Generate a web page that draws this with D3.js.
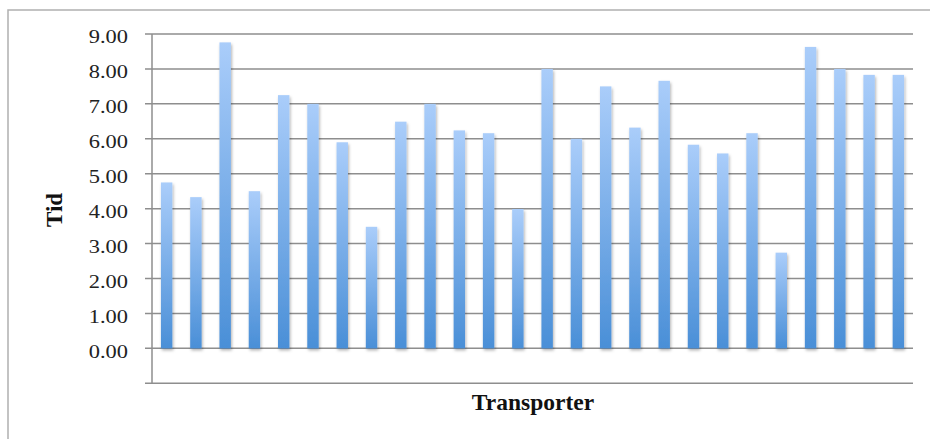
<!DOCTYPE html>
<html>
<head>
<meta charset="utf-8">
<script src="https://cdn.jsdelivr.net/npm/d3@7/dist/d3.min.js"></script>
<style>
  html, body { margin: 0; padding: 0; background: #fff; }
  svg { display: block; }
  .serif { font-family: "Liberation Serif", "Times New Roman", serif; }
</style>
</head>
<body>
<svg id="chart" width="930" height="439"></svg>
<script>
// Transporter times
const categories = d3.range(1, 27).map(String);
const values = [4.75, 4.33, 8.76, 4.50, 7.25, 7.00, 5.90, 3.48, 6.49, 7.00,
                6.24, 6.16, 3.99, 8.00, 6.00, 7.50, 6.32, 7.66, 5.83, 5.58,
                6.16, 2.74, 8.63, 8.00, 7.83, 7.83];
const tickValues = [0, 1, 2, 3, 4, 5, 6, 7, 8, 9];
const yTitle = "Tid";
const xTitle = "Transporter";

const svg = d3.select("#chart");
const plotLeft = 152, plotRight = 913, plotTop = 34, plotBottom = 383.3;

// Outer chart frame
svg.append("rect")
  .attr("x", 8).attr("y", 10).attr("width", 940).attr("height", 450)
  .attr("fill", "none").attr("stroke", "#b0b0b0").attr("stroke-width", 1.5);

const defs = svg.append("defs");
const grad = defs.append("linearGradient")
  .attr("id", "barFill").attr("x1", 0).attr("y1", 0).attr("x2", 0).attr("y2", 1);
grad.append("stop").attr("offset", "0%").attr("stop-color", "#aacdfa");
grad.append("stop").attr("offset", "100%").attr("stop-color", "#4a8fd7");

const shadow = defs.append("filter").attr("id", "barShadow")
  .attr("x", "-50%").attr("y", "-5%").attr("width", "200%").attr("height", "115%");
shadow.append("feDropShadow")
  .attr("dx", 1).attr("dy", 2).attr("stdDeviation", 1.6)
  .attr("flood-color", "#000").attr("flood-opacity", 0.3);

const x = d3.scaleBand().domain(categories).range([plotLeft, plotRight])
  .paddingInner(0.61).paddingOuter(0.305);
const y = d3.scaleLinear().domain([-1, 9]).range([plotBottom, plotTop]);

// Gridlines with tick stubs
svg.append("g").selectAll("line").data(tickValues).join("line")
  .attr("x1", plotLeft - 7).attr("x2", plotRight)
  .attr("y1", d => y(d)).attr("y2", d => y(d))
  .attr("stroke", "#8e8e8e").attr("stroke-width", 1.5);

// Bars
svg.append("g").selectAll("rect").data(values).join("rect")
  .attr("x", (d, i) => x(categories[i]))
  .attr("width", x.bandwidth())
  .attr("y", d => y(d))
  .attr("height", d => y(0) - y(d))
  .attr("fill", "url(#barFill)")
  .attr("filter", "url(#barShadow)");

// Axis lines
svg.append("line").attr("x1", plotLeft).attr("x2", plotLeft)
  .attr("y1", plotTop).attr("y2", plotBottom)
  .attr("stroke", "#8e8e8e").attr("stroke-width", 1.5);
svg.append("line").attr("x1", plotLeft - 7).attr("x2", plotRight)
  .attr("y1", plotBottom).attr("y2", plotBottom)
  .attr("stroke", "#8e8e8e").attr("stroke-width", 1.5);

// Tick labels (slightly widened serif digits)
svg.append("g").selectAll("text").data(tickValues).join("text")
  .attr("class", "serif")
  .attr("transform", d => `translate(128, ${y(d) + 9.3}) scale(1.15, 1)`)
  .attr("text-anchor", "end")
  .attr("font-size", 19.5).attr("fill", "#222")
  .text(d => d3.format(".2f")(d));

// Axis titles
svg.append("text")
  .attr("class", "serif")
  .attr("transform", `translate(62, 210) rotate(-90)`)
  .attr("text-anchor", "middle")
  .attr("font-weight", "bold").attr("font-size", 23).attr("fill", "#111")
  .text(yTitle);
svg.append("text")
  .attr("class", "serif")
  .attr("x", 533).attr("y", 409.5)
  .attr("text-anchor", "middle")
  .attr("font-weight", "bold").attr("font-size", 23.5).attr("fill", "#111")
  .text(xTitle);
</script>
</body>
</html>
